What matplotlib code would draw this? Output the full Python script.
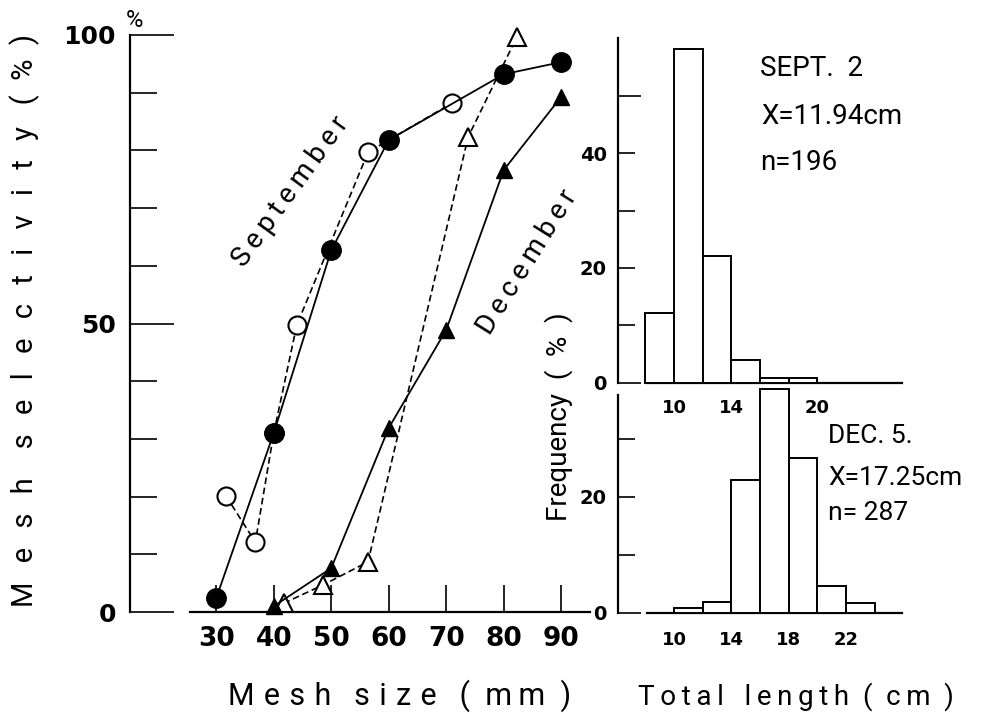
import matplotlib
matplotlib.use('Agg')
import matplotlib.pyplot as plt

plt.rcParams['font.family'] = ['Roboto', 'DejaVu Sans']

# mesh selectivity curves (mesh size in mm, selectivity in %)
sep_filled_mesh = [30, 40, 50, 60, 80, 90]
sep_filled_sel = [2.4, 31, 62.7, 81.8, 93.2, 95.3]
sep_open_mesh = [31.7, 36.8, 40, 44, 56.4, 71]
sep_open_sel = [20.1, 12.1, 31, 49.7, 79.7, 88.2]
dec_filled_mesh = [40, 50, 60, 70, 80, 90]
dec_filled_sel = [1, 7.6, 31.9, 48.9, 76.6, 89.3]
dec_open_mesh = [41.7, 48.6, 56.4, 73.8, 82.3]
dec_open_sel = [1.5, 4.7, 8.7, 82.3, 99.7]
mesh_ticks = [30, 40, 50, 60, 70, 80, 90]

# length frequency (left edge of 2 cm class, %)
sept_len = [8, 10, 12, 14, 16, 18]
sept_freq = [12.1, 58.1, 22.0, 4.0, 0.9, 0.8]
dec_len = [10, 12, 14, 16, 18, 20, 22]
dec_freq = [0.75, 1.9, 22.8, 38.5, 26.6, 4.6, 1.6]
sept_len_ticks = [10, 14, 20]
dec_len_ticks = [10, 14, 18, 22]

W, H = 982, 714


def px(x, y):
    return x / W, 1 - y / H


def box(l, t, r, b):
    return [l / W, 1 - b / H, (r - l) / W, (b - t) / H]


def track(word, gap):
    return gap.join(list(word))


bold = dict(family='DejaVu Sans', fontweight='bold')
light = dict(fontweight='normal', color='black')

fig = plt.figure(figsize=(W / 100, H / 100), dpi=100)

# ---- selectivity panel ----
ax = fig.add_axes(box(130, 35, 590, 612))
ax.set_xlim(15, 95)
ax.set_ylim(0, 100)
for s in ['top', 'right']:
    ax.spines[s].set_visible(False)
ax.spines['left'].set_linewidth(1.6)
ax.spines['bottom'].set_linewidth(1.6)
ax.spines['bottom'].set_bounds(25.5, 95)

dash = (0, (4, 2.2))
ax.plot(sep_open_mesh, sep_open_sel, color='black', lw=1.2, ls=dash,
        marker='o', ms=13, mfc='white', mec='black', mew=1.5, clip_on=False, zorder=3)
ax.plot(sep_filled_mesh, sep_filled_sel, color='black', lw=1.3, ls='-',
        marker='o', ms=14, mfc='black', mec='black', clip_on=False, zorder=4)
ax.plot(dec_open_mesh, dec_open_sel, color='black', lw=1.2, ls=dash,
        marker='^', ms=13, mfc='white', mec='black', mew=1.5, clip_on=False, zorder=3)
ax.plot(dec_filled_mesh, dec_filled_sel, color='black', lw=1.3, ls='-',
        marker='^', ms=11, mfc='black', mec='black', clip_on=False, zorder=4)

ax.set_xticks(mesh_ticks, labels=[str(t) for t in mesh_ticks], fontsize=19, **bold)
ax.set_yticks([0, 50, 100], labels=['0', '50', '100'], fontsize=18, **bold)
ax.set_yticks([10, 20, 30, 40, 60, 70, 80, 90], minor=True)
ax.tick_params(axis='x', direction='in', length=19.5, width=1.2, pad=10)
ax.tick_params(axis='y', which='major', direction='in', length=32, width=1.2, pad=10)
ax.tick_params(axis='y', which='minor', direction='in', length=19.5, width=1.2)

ax.annotate('%', xy=(15, 100), xytext=(3, 2), textcoords='offset points',
            ha='center', va='bottom', fontsize=17, **light)

fig.text(*px(291, 192), track('September', '\u2009'), fontsize=20,
         rotation=54, rotation_mode='anchor', ha='center', va='center', **light)
fig.text(*px(527, 262), track('December', '\u2009'), fontsize=20,
         rotation=58, rotation_mode='anchor', ha='center', va='center', **light)

ylab = track('Mesh', ' \u2009\u2009') + '    ' + track('selectivity', ' \u2009\u2009') + '   (  %  )'
fig.text(*px(33, 320), ylab, rotation=90, rotation_mode='anchor',
         ha='center', va='baseline', fontsize=21, **light)
xlab = track('Mesh', '\u2009\u200a') + '   ' + track('size', '\u2009\u200a') + '   (  ' + track('mm', '\u2009') + '  )'
fig.text(*px(400, 705), xlab, ha='center', va='baseline', fontsize=22, **light)

# ---- length frequency panels ----
def hist_panel(rect, ymax, lens, freqs, xticks, yticks, ylabels, long_ticks, label_pad):
    h = fig.add_axes(rect)
    h.patch.set_visible(False)
    h.set_xlim(6.1, 25.9)
    h.set_ylim(0, ymax)
    for s in ['top', 'right']:
        h.spines[s].set_visible(False)
    h.spines['left'].set_linewidth(1.6)
    h.spines['bottom'].set_linewidth(1.6)
    h.spines['bottom'].set_bounds(8.1, 25.9)
    h.bar(lens, freqs, width=2, align='edge', facecolor='white',
          edgecolor='black', linewidth=1.4, clip_on=False, zorder=3)
    h.set_xticks(xticks, labels=[str(t) for t in xticks], fontsize=13, **bold)
    h.tick_params(axis='x', length=0, pad=label_pad)
    h.set_yticks(yticks, labels=ylabels, fontsize=14, **bold)
    h.tick_params(axis='y', direction='in', length=12.5, width=1.2, pad=8)
    for i, t in enumerate(h.yaxis.get_major_ticks()):
        if yticks[i] in long_ticks:
            t.tick1line.set_markersize(16.5)
    return h


hist_panel(box(618, 38.3, 902, 382.7), 60, sept_len, sept_freq, sept_len_ticks,
           [0, 10, 20, 30, 40, 50], ['0', '', '20', '', '40', ''], [0, 50], 12)
hist_panel(box(618, 395, 902, 612.7), 37.5, dec_len, dec_freq, dec_len_ticks,
           [0, 10, 20, 30], ['0', '', '20', ''], [0], 13)

fig.text(*px(760, 76), 'SEPT.  2', ha='left', va='baseline', fontsize=20, **light)
fig.text(*px(761, 124), 'X=11.94cm', ha='left', va='baseline', fontsize=20, **light)
fig.text(*px(760, 170), 'n=196', ha='left', va='baseline', fontsize=20, **light)
fig.text(*px(828, 443), 'DEC. 5.', ha='left', va='baseline', fontsize=19, **light)
fig.text(*px(828, 485), 'X=17.25cm', ha='left', va='baseline', fontsize=19, **light)
fig.text(*px(828, 520), 'n= 287', ha='left', va='baseline', fontsize=19, **light)

fig.text(*px(567, 417), 'Frequency  (  %  )', rotation=90, rotation_mode='anchor',
         ha='center', va='baseline', fontsize=20, **light)
tl = track('Total', '\u2009') + '   ' + track('length', '\u2009') + '  (  ' + track('cm', '\u2009') + '  )'
fig.text(*px(796, 705), tl, ha='center', va='baseline', fontsize=20, **light)

fig.savefig('out.png', dpi=100)
